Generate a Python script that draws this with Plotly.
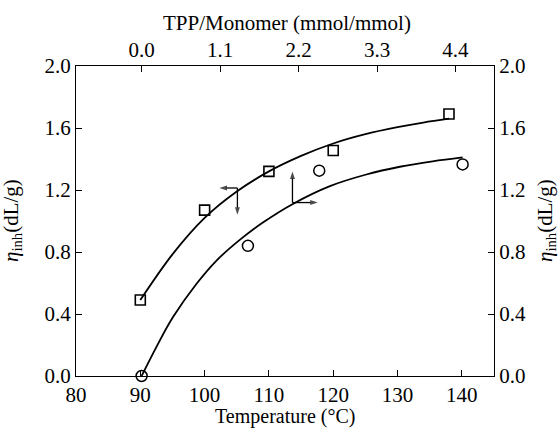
import plotly.graph_objects as go

# ---- data ----
# squares: eta_inh vs polymerization temperature (bottom axis, left axis)
temp_pts = [90, 100, 110, 120, 138]
eta_temp_pts = [0.49, 1.07, 1.32, 1.455, 1.69]
# fitted curve for squares
temp_curve = [90, 95, 100, 105, 110, 115, 120, 125, 130, 134, 138]
eta_temp_curve = [0.49, 0.785, 1.02, 1.19, 1.32, 1.42, 1.50, 1.56, 1.605, 1.635, 1.66]

# circles: eta_inh vs TPP/Monomer ratio (top axis, right axis)
tpp_pts = [0.0, 1.49, 2.49, 4.50]
eta_tpp_pts = [0.0, 0.84, 1.325, 1.365]
tpp_curve = [0.0, 0.21, 0.44, 0.77, 1.05, 1.38, 1.70, 2.12, 2.64, 3.15, 3.62, 4.08, 4.50]
eta_tpp_curve = [0.0, 0.19, 0.38, 0.595, 0.745, 0.88, 0.99, 1.11, 1.225, 1.30, 1.35, 1.385, 1.41]

x_ticks = [80, 90, 100, 110, 120, 130, 140]
top_ticks = [0.0, 1.1, 2.2, 3.3, 4.4]
top_ticktext = ["0.0", "1.1", "2.2", "3.3", "4.4"]
y_ticks = [0.0, 0.4, 0.8, 1.2, 1.6, 2.0]

# direction arrows (tail -> head) in bottom/left axis units
arrow_tails_x = [105.1, 105.1, 113.66, 113.66]
arrow_tails_y = [1.213, 1.213, 1.119, 1.119]
arrow_heads_x = [102.3, 105.1, 113.66, 117.6]
arrow_heads_y = [1.213, 1.04, 1.32, 1.119]

FONT = "Liberation Serif, Times New Roman, serif"
FS = 21

fig = go.Figure()
fig.add_trace(go.Scatter(x=temp_curve, y=eta_temp_curve, mode="lines",
                         line=dict(color="black", width=1.8, shape="spline"),
                         xaxis="x", yaxis="y", showlegend=False))
fig.add_trace(go.Scatter(x=temp_pts, y=eta_temp_pts, mode="markers",
                         marker=dict(symbol="square-open", size=10, color="black",
                                     line=dict(width=1.6, color="black")),
                         xaxis="x", yaxis="y", showlegend=False))
fig.add_trace(go.Scatter(x=tpp_curve, y=eta_tpp_curve, mode="lines",
                         line=dict(color="black", width=1.8, shape="spline"),
                         xaxis="x2", yaxis="y2", showlegend=False))
fig.add_trace(go.Scatter(x=tpp_pts, y=eta_tpp_pts, mode="markers",
                         marker=dict(symbol="circle-open", size=11, color="black",
                                     line=dict(width=1.5, color="black")),
                         xaxis="x2", yaxis="y2", showlegend=False, cliponaxis=False))

for tx, ty, hx, hy in zip(arrow_tails_x, arrow_tails_y, arrow_heads_x, arrow_heads_y):
    fig.add_trace(go.Scatter(x=[tx, hx], y=[ty, hy], mode="lines+markers",
                             line=dict(color="black", width=1.3),
                             marker=dict(symbol=["circle", "arrow"], size=[0.1, 8],
                                         angleref="previous", color="black",
                                         line=dict(width=0)),
                             xaxis="x", yaxis="y", showlegend=False, hoverinfo="skip"))

axis_common = dict(showline=True, linecolor="black", linewidth=1.2,
                   ticks="inside", ticklen=6, tickwidth=1, tickcolor="black",
                   showgrid=False, zeroline=False, automargin=False,
                   tickfont=dict(family=FONT, size=FS, color="black"))

fig.update_layout(
    width=559, height=428,
    margin=dict(l=76, r=65, t=66, b=52),
    paper_bgcolor="white", plot_bgcolor="white",
    font=dict(family=FONT, size=FS, color="black"),
    xaxis=dict(range=[80, 145], tickvals=x_ticks, **axis_common),
    xaxis2=dict(range=[-0.92, 4.94], overlaying="x", side="top", anchor="y",
                tickvals=top_ticks, ticktext=top_ticktext, **axis_common),
    yaxis=dict(range=[0, 2.0], tickvals=y_ticks, tickformat=".1f", **axis_common),
    yaxis2=dict(range=[0, 2.0], overlaying="y", side="right", anchor="x",
                tickvals=y_ticks, tickformat=".1f", **axis_common),
)

title_font = dict(family=FONT, size=FS, color="black")
fig.add_annotation(text="Temperature (°C)", xref="paper", yref="paper",
                   x=0.5, y=-0.1306, xanchor="center", yanchor="middle",
                   showarrow=False, font=dict(family=FONT, size=20, color="black"),
                   borderpad=0)
fig.add_annotation(text="TPP/Monomer (mmol/mmol)", xref="paper", yref="paper",
                   x=0.505, y=1.14, xanchor="center", yanchor="middle",
                   showarrow=False, font=title_font)
yt = "<i>η</i><sub>inh</sub>(dL/g)"
fig.add_annotation(text=yt, xref="paper", yref="paper", x=-0.153, y=0.5,
                   xanchor="center", yanchor="middle", textangle=-90,
                   showarrow=False, font=title_font)
fig.add_annotation(text=yt, xref="paper", yref="paper", x=1.1245, y=0.5,
                   xanchor="center", yanchor="middle", textangle=-90,
                   showarrow=False, font=title_font)

fig.write_html("out.html")
